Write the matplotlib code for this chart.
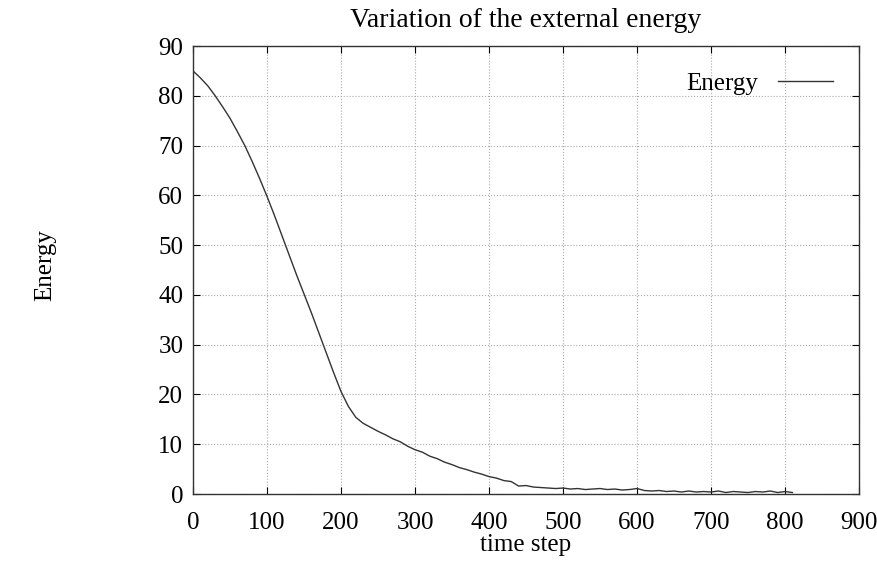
import matplotlib
matplotlib.use("Agg")
import matplotlib.pyplot as plt
import numpy as np

# ── dados ──
passos = list(range(0, 820, 10))
energia = [
    85.0, 83.6, 82.0, 80.0, 77.8, 75.5, 72.8, 70.0, 66.8, 63.4,   # 0-90
    59.8, 56.0, 52.0, 48.0, 44.0, 40.2, 36.4, 32.4, 28.4, 24.4,   # 100-190
    20.6, 17.6, 15.4, 14.2, 13.4, 12.6, 11.9, 11.1, 10.5, 9.6,    # 200-290
    8.9, 8.4, 7.6, 7.1, 6.4, 5.9, 5.3, 4.9, 4.4, 4.0,             # 300-390
    3.5, 3.2, 2.7, 2.5, 1.6, 1.7, 1.4, 1.3, 1.2, 1.1,             # 400-490
    1.2, 1.0, 1.1, 0.9, 1.0, 1.1, 0.9, 1.0, 0.8, 0.9,             # 500-590
    1.1, 0.7, 0.6, 0.7, 0.5, 0.6, 0.4, 0.6, 0.4, 0.5,             # 600-690
    0.4, 0.6, 0.3, 0.5, 0.4, 0.3, 0.5, 0.4, 0.6, 0.3,             # 700-790
    0.5, 0.3,                                                     # 800-810
]

xticks = list(range(0, 1000, 100))
yticks = list(range(0, 100, 10))

plt.rcParams["font.family"] = ["Liberation Serif", "DejaVu Serif"]

fig = plt.figure(figsize=(8.78, 5.64), dpi=100)
ax = fig.add_axes([0.2198, 0.1241, 0.7586, 0.7943])

ax.plot(passos, energia, color="#333333", lw=1.0, label="Energy")

ax.set_xlim(0, 900)
ax.set_ylim(0, 90)
ax.set_xticks(xticks)
ax.set_yticks(yticks)
ax.tick_params(direction="in", top=True, right=True, length=5, labelsize=18)
ax.tick_params(axis="x", pad=13)
ax.tick_params(axis="y", pad=7)
ax.grid(True, linestyle=":", color="#aaaaaa", lw=0.8)
for s in ax.spines.values():
    s.set_linewidth(1.0)
    s.set_color("#333333")

ax.set_title("Variation of the external energy", fontsize=20, pad=14)
ax.set_xlabel("time step", fontsize=18, labelpad=0)
fig.text(0.052, 0.53, "Energy", rotation=90, fontsize=18, ha="center", va="center")

ax.legend(loc="upper right", frameon=False, markerfirst=False, fontsize=18,
          handlelength=2.2, borderaxespad=0.65)

plt.savefig("out.png", dpi=100)
